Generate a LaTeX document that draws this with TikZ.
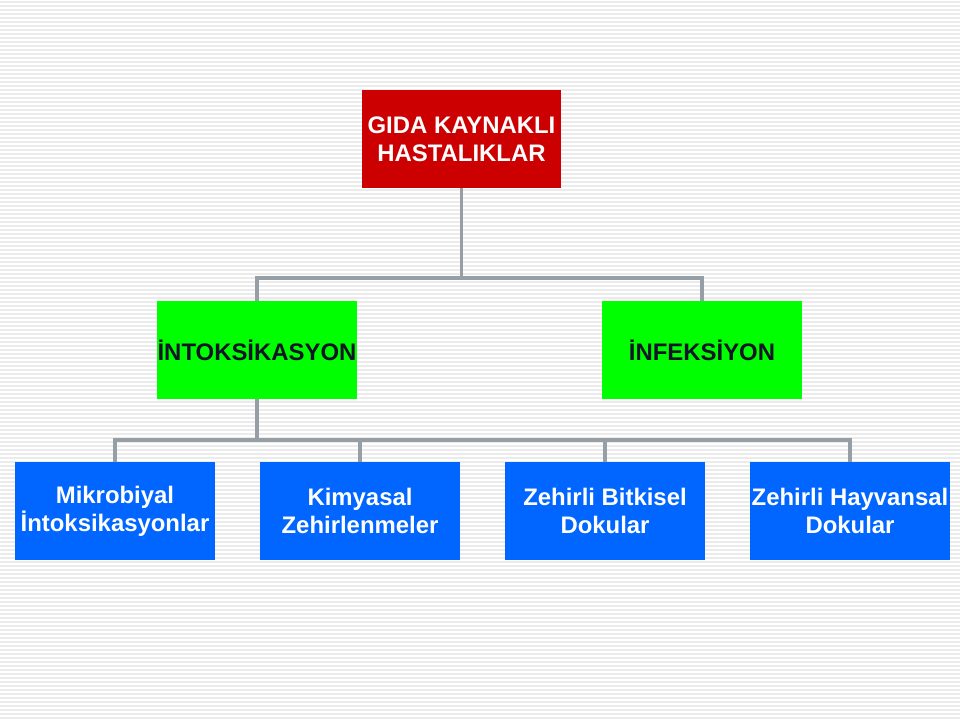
\documentclass[tikz,border=0pt]{standalone}
\usepackage{fontspec}
\setmainfont{Liberation Sans}
\usepackage{tikz}

\definecolor{gidared}{RGB}{204,0,0}
\definecolor{typegreen}{RGB}{0,255,0}
\definecolor{causeblue}{RGB}{0,102,255}
\definecolor{linkgray}{RGB}{150,158,166}
\definecolor{stripegray}{RGB}{235,235,235}
\definecolor{darktext}{RGB}{20,20,40}

\tikzset{
  box/.style={rectangle, minimum width=4.975cm, minimum height=2.45cm, inner sep=0pt,
    align=center, font=\bfseries\fontsize{17}{19.8}\selectfont},
  topbox/.style={box, fill=gidared, text=white},
  typebox/.style={box, fill=typegreen, text=darktext},
  causebox/.style={box, fill=causeblue, text=white},
  link/.style={linkgray, line width=2.2pt}
}

\begin{document}
\begin{tikzpicture}[x=0.025cm, y=0.025cm]
\useasboundingbox (0,0) rectangle (960,720);
\fill[white] (0,0) rectangle (960,720);

% striped background
\foreach \y in {2,6,...,718}
  \draw[stripegray, line width=1.1pt] (0,\y) -- (960,\y);

% boxes
\node[topbox] (gida) at (461.5,581) {GIDA KAYNAKLI\\HASTALIKLAR};

\node[typebox] (intok) at (257,370) {İNTOKSİKASYON};
\node[typebox] (infek) at (702,370) {İNFEKSİYON};

\node[causebox] (mikro) at (115,209) {Mikrobiyal\\İntoksikasyonlar};
\node[causebox] (kimya) at (360,209) {Kimyasal\\Zehirlenmeler};
\node[causebox] (bitki) at (605,209) {Zehirli Bitkisel\\Dokular};
\node[causebox] (hayvan) at (850,209) {Zehirli Hayvansal\\Dokular};

% connectors
\coordinate (j1) at (461.5,442);
\coordinate (j2) at (257,280);

\draw[link] (gida.south) -- (j1);
\draw[link] (j1) -| (intok.north);
\draw[link] (j1) -| (infek.north);

\draw[link] (intok.south) -- (j2);
\foreach \n in {mikro,kimya,bitki,hayvan}
  \draw[link] (j2) -| (\n.north);

\end{tikzpicture}
\end{document}
